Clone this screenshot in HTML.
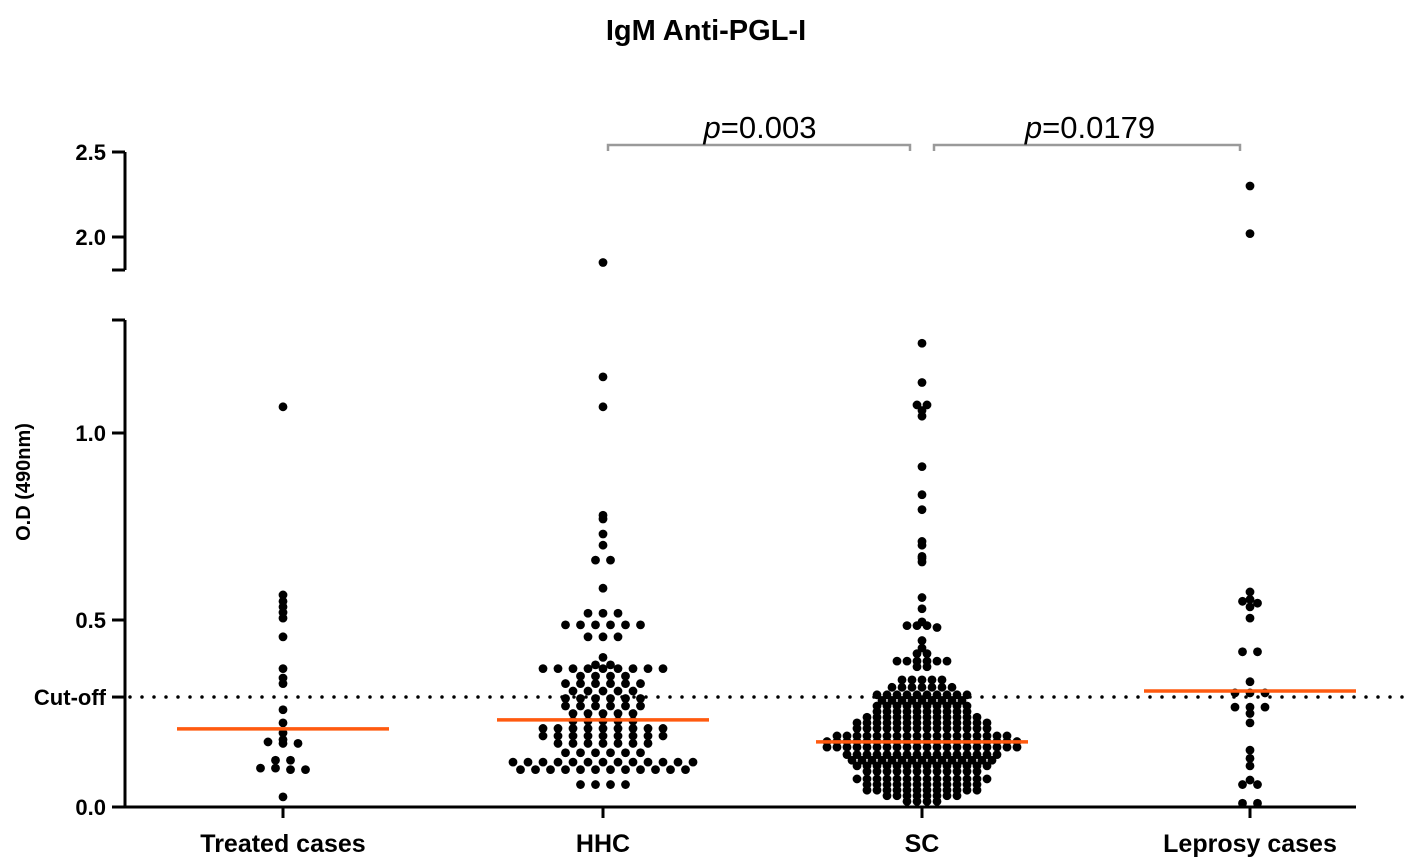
<!DOCTYPE html>
<html><head><meta charset="utf-8"><style>
body{margin:0;background:#fff;}
svg{display:block;font-family:"Liberation Sans",Arial,sans-serif;}
</style></head><body>
<svg id="chart" width="1418" height="868" viewBox="0 0 1418 868">
<text x="706" y="40" text-anchor="middle" font-size="29" font-weight="bold">IgM Anti-PGL-I</text>
<text transform="translate(30,482) rotate(-90)" text-anchor="middle" font-size="20" font-weight="bold">O.D (490nm)</text>
<g id="axes"></g>
<g id="marks"></g>
</svg>
<script>
const categories=["Treated cases","HHC","SC","Leprosy cases"];
const centers=[283,603,922,1250];
const spacing=[15,15,10,15];
const medians=[0.209,0.233,0.174,0.31];
const cutoff=0.294;
const lowerTicks=[0.0,0.5,1.0];
const lowerTickLabels=["0.0","0.5","1.0"];
const upperTicks=[2.0,2.5];
const upperTickLabels=["2.0","2.5"];
const treatedValues=[1.07,0.567,0.55,0.535,0.52,0.505,0.455,0.37,0.345,0.33,0.26,0.225,0.198,0.174,0.18,0.17,0.17,0.125,0.125,0.104,0.104,0.1,0.1,0.027];
const hhcValues=[1.85,1.15,1.07,0.78,0.77,0.73,0.70,0.66,0.66,0.585,0.518,0.518,0.518,0.487,0.487,0.487,0.487,0.487,0.487,0.455,0.455,0.455];
const hhcRowValues=[0.40,0.38,0.37,0.35,0.33,0.31,0.29,0.27,0.25,0.23,0.21,0.19,0.17,0.145,0.12,0.10,0.06];
const hhcRowCounts=[1,2,9,4,6,5,6,6,5,5,9,9,7,6,13,12,4];
const scValues=[1.24,1.135,1.075,1.075,1.06,1.045,0.91,0.835,0.795,0.71,0.70,0.67,0.665,0.655,0.56,0.53,0.495,0.485,0.485,0.485,0.48,0.445,0.425,0.41,0.41];
const scRowValues=[0.39,0.375,0.34,0.32,0.30,0.285,0.27,0.255,0.24,0.225,0.21,0.19,0.175,0.16,0.14,0.125,0.11,0.095,0.075,0.06,0.045,0.03,0.015];
const scRowCounts=[6,2,5,7,10,9,10,10,12,14,14,18,20,20,16,15,14,12,14,12,12,8,4];
const leprosyValues=[2.3,2.02,0.575,0.555,0.55,0.545,0.535,0.505,0.415,0.415,0.335,0.305,0.305,0.305,0.267,0.267,0.267,0.25,0.225,0.152,0.13,0.11,0.072,0.06,0.06,0.01,0.01];

function expand(base,vals,counts){const out=base.slice();vals.forEach((v,i)=>{for(let k=0;k<counts[i];k++)out.push(v);});return out;}
const groups=[treatedValues,expand(hhcValues,hhcRowValues,hhcRowCounts),expand(scValues,scRowValues,scRowCounts),leprosyValues];

function yScale(v){ if(v<=1.3) return 807-374*v; return 237-170*(v-2.0); }
const NS="http://www.w3.org/2000/svg";
function mk(tag,attrs,parent){const e=document.createElementNS(NS,tag);for(const k in attrs)e.setAttribute(k,attrs[k]);parent.appendChild(e);return e;}
const axes=document.getElementById('axes'), marks=document.getElementById('marks');

let l=mk('line',{x1:125,y1:320,x2:125,y2:807,stroke:'#000','stroke-width':3},axes);


l=mk('line',{x1:125,y1:152,x2:125,y2:270,stroke:'#000','stroke-width':3},axes);


mk('line',{x1:112,y1:320,x2:125,y2:320,stroke:'#000','stroke-width':3},axes);
mk('line',{x1:112,y1:270,x2:125,y2:270,stroke:'#000','stroke-width':3},axes);
lowerTicks.concat(upperTicks).forEach((v,i)=>{
  const y=yScale(v);
  mk('line',{x1:112,y1:y,x2:125,y2:y,stroke:'#000','stroke-width':3},axes);
  const t=mk('text',{x:106,y:y+8,'text-anchor':'end','font-size':22,'font-weight':'bold'},axes);
  t.textContent=lowerTickLabels.concat(upperTickLabels)[i];
  
  
});
const cy=yScale(cutoff);
let ct=mk('text',{x:106,y:cy+8,'text-anchor':'end','font-size':22,'font-weight':'bold'},axes);
ct.textContent="Cut-off";


mk('line',{x1:112,y1:cy,x2:125,y2:cy,stroke:'#000','stroke-width':3},axes);
let cl=mk('line',{x1:130,y1:cy,x2:1412,y2:cy,stroke:'#000','stroke-width':3.5,'stroke-dasharray':'0 12','stroke-linecap':'round'},axes);


let xa=mk('line',{x1:124,y1:807,x2:1356,y2:807,stroke:'#000','stroke-width':3},axes);


categories.forEach((c,i)=>{
  mk('line',{x1:centers[i],y1:807,x2:centers[i],y2:818,stroke:'#000','stroke-width':3},axes);
  const t=mk('text',{x:centers[i],y:852,'text-anchor':'middle','font-size':25,'font-weight':'bold'},axes);
  t.textContent=c;
  
  
});
groups.forEach((vals,gi)=>{
  const bins={};
  vals.forEach(v=>{const b=Math.round(v/0.013);(bins[b]=bins[b]||[]).push(v);});
  Object.values(bins).forEach(arr=>{
    const k=arr.length;
    arr.forEach((v,j)=>{
      const off=(j-(k-1)/2)*spacing[gi];
      const d=mk('circle',{cx:centers[gi]+off,cy:yScale(v),r:4.4,fill:'#000'},marks);
      
      
    });
  });
  const my=yScale(medians[gi]);
  const m=mk('line',{x1:centers[gi]-106,y1:my,x2:centers[gi]+106,y2:my,stroke:'#ff5a0f','stroke-width':3.5},marks);
  
  
});
const brackets=[[608,910,"0.003",760],[934,1240,"0.0179",1090]];
brackets.forEach(b=>{
  const g=mk('g',{},axes);
  
  
  mk('path',{d:`M${b[0]},151 V145 H${b[1]} V151`,stroke:'#9a9a9a','stroke-width':2.5,fill:'none'},g);
  const t=mk('text',{x:b[3],y:138,'text-anchor':'middle','font-size':31},g);
  t.innerHTML='<tspan font-style="italic">p</tspan>=' + b[2];
});
</script>
</body></html>
